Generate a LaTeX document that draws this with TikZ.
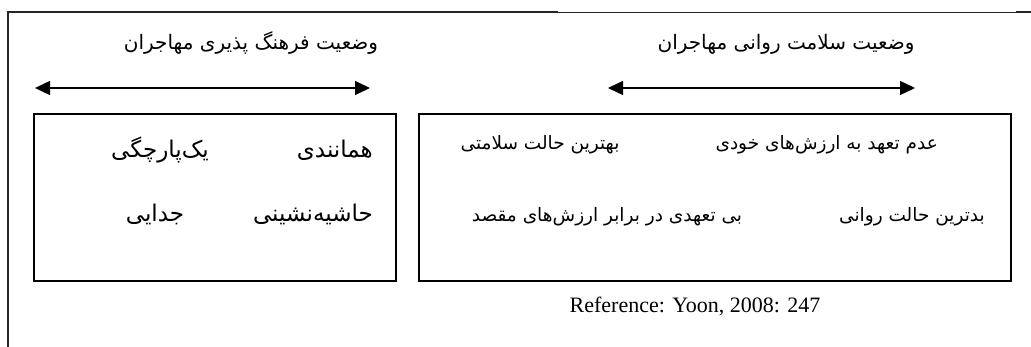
\documentclass[tikz,border=0pt]{standalone}
\usepackage{fontspec}
\setmainfont{Liberation Serif}
\newfontfamily\fa[Script=Arabic]{DejaVu Sans}
\TeXXeTstate=1
\usetikzlibrary{arrows.meta}
\begin{document}
\begin{tikzpicture}[x=1pt, y=-1pt,
  frameline/.style={line width=1.8pt, color=black!85},
  framethin/.style={line width=0.9pt, color=black!85},
  panel/.style={draw, line width=1.6pt, inner sep=0pt, anchor=north west},
  span/.style={line width=1.4pt, {Triangle[length=15pt,width=14pt]}-{Triangle[length=15pt,width=14pt]}},
  heading/.style={font=\fa\fontsize{20}{22}\selectfont, inner sep=0pt, anchor=base},
  bigitem/.style={font=\fa\fontsize{23}{26}\selectfont, inner sep=0pt},
  item/.style={font=\fa\fontsize{18.5}{21}\selectfont, inner sep=0pt},
  source/.style={font=\fontsize{22}{24}\selectfont, inner sep=0pt, anchor=base}
]
\useasboundingbox (0,0) rectangle (1031,347);

% open frame: top rule and left rule
\coordinate (f0) at (8,347);
\coordinate (f1) at (8,12);
\coordinate (f2) at (558,12);
\coordinate (f3) at (1016,12);
\coordinate (f4) at (1031,12);
\draw[frameline] (f0) -- (f1) -- (f2);
\draw[framethin] (f2) -- (f3);
\draw[frameline] (f3) -- (f4);

% headings
\node[heading] (hl) at (251,50) {\fa\beginR وضعیت فرهنگ پذیری مهاجران\endR};
\node[heading] (hr) at (786,50) {\fa\beginR وضعیت سلامت روانی مهاجران\endR};

% double-headed spans
\coordinate (al) at (35,88);
\coordinate (ar) at (370,88);
\draw[span] (al) -- (ar);
\coordinate (bl) at (608,88);
\coordinate (br) at (915,88);
\draw[span] (bl) -- (br);

% panels
\node[panel, minimum width=362pt, minimum height=167pt] (pl) at (33,113) {};
\node[panel, minimum width=592pt, minimum height=167pt] (pr) at (418,113) {};

% left panel items
\node[bigitem, anchor=base east] (l1) at (373,158) {\fa\beginR همانندی\endR};
\node[bigitem, anchor=base] (l2) at (160,158) {\fa\beginR یک‌پارچگی\endR};
\node[bigitem, anchor=base east] (l3) at (373,222) {\fa\beginR حاشیه‌نشینی\endR};
\node[bigitem, anchor=base] (l4) at (155,222) {\fa\beginR جدایی\endR};

% right panel items
\node[item, anchor=base east] (r1) at (938,150) {\fa\beginR عدم تعهد به ارزش‌های خودی\endR};
\node[item, anchor=base] (r2) at (540,150) {\fa\beginR بهترین حالت سلامتی\endR};
\node[item, anchor=base east] (r3) at (985,222) {\fa\beginR بدترین حالت روانی\endR};
\node[item, anchor=base] (r4) at (607,222) {\fa\beginR بی تعهدی در برابر ارزش‌های مقصد\endR};

% source line
\node[source] (src) at (695,313) {Reference: Yoon, 2008: 247};
\end{tikzpicture}
\end{document}
